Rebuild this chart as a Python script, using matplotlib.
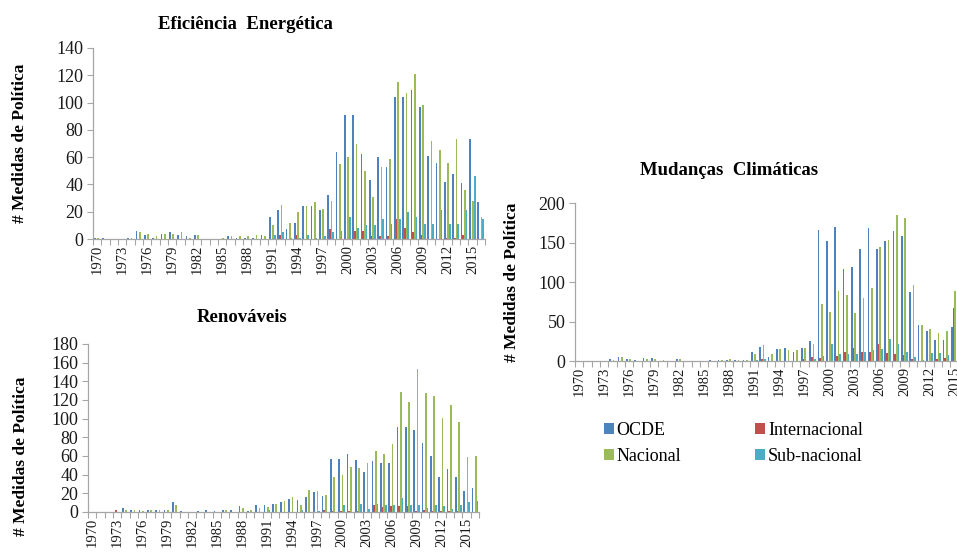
import numpy as np
import matplotlib
matplotlib.use("Agg")
import matplotlib.pyplot as plt
from matplotlib.patches import Patch
from matplotlib.ticker import MultipleLocator, FixedLocator

plt.rcParams['font.family'] = ['Liberation Serif', 'DejaVu Serif']

series_names = ["OCDE", "Internacional", "Nacional", "Sub-nacional"]
series_colors = ["#4F81BD", "#C0504D", "#9BBB59", "#4BACC6"]

years = list(range(1970, 2017))          # 1970-2016
years_mc = list(range(1970, 2016))       # 1970-2015

# Eficiência Energética
ee_ocde = [0.5, 0.5, 0, 0, 0.5, 6, 3, 0.5, 4, 5, 3, 2, 3, 0, 0, 0, 2, 1, 0.5, 1,
           3, 16, 21, 7, 12, 24, 24, 21, 32, 64, 91, 91, 62, 43, 60, 53, 104, 104,
           109, 97, 61, 56, 42, 48, 41, 73, 27]
ee_int = [0, 0, 0, 0, 0, 0, 0, 0, 0, 0, 0, 0, 0, 0, 0, 0, 0, 0, 0, 0,
          0, 0, 3, 0, 3, 0, 0, 0, 7, 0, 0, 6, 6, 2, 2, 2, 15, 8,
          5, 3, 0, 0, 1, 1, 3, 0, 0]
ee_nac = [0.5, 0, 0, 0, 0.5, 5, 4, 2, 4, 4, 5, 0.5, 3, 0, 0, 0.5, 2, 2, 2, 3,
          2, 10, 25, 12, 20, 24, 27, 22, 28, 55, 60, 70, 50, 31, 53, 59, 115, 107,
          121, 98, 72, 65, 56, 73, 36, 28, 16]
ee_sub = [0, 0, 0, 0, 0, 0, 0, 0, 0, 0, 0, 0, 0, 0, 0, 0, 0, 0, 0, 0,
          0, 3, 5, 0.5, 0.5, 3, 0.5, 2, 5, 6, 16, 8, 10, 10, 15, 11, 15, 20,
          16, 11, 11, 21, 11, 11, 21, 46, 15]

# Renováveis
ren_ocde = [0, 0, 0, 0, 4, 2, 2, 2, 2, 2, 11, 1, 0, 1, 2, 1, 2, 2, 6, 1,
            7, 7, 9, 11, 14, 13, 16, 21, 17, 57, 57, 62, 56, 43, 55, 52, 52, 91,
            91, 88, 74, 60, 38, 46, 38, 23, 26]
ren_int = [0, 0, 0, 2, 0, 0, 0, 0, 0, 0, 0, 0, 0, 0, 0, 0, 0, 0, 0, 0,
           0, 0, 0, 0, 0, 0, 0, 0, 2, 1, 1, 1.5, 1, 0, 7, 5, 6, 6,
           6, 1, 2, 1, 1, 1, 1.5, 0, 0]
ren_nac = [0, 0, 0, 0, 2, 2, 1, 2, 2, 2, 7, 0, 0, 0, 0, 0, 2, 0, 4, 2,
           4, 5, 9, 12, 16, 7, 24, 23, 18, 38, 40, 48, 47, 53, 65, 62, 73, 129,
           118, 153, 127, 124, 101, 115, 96, 59, 60]
ren_sub = [0, 0, 0, 0, 0, 0, 0, 0, 0, 0, 0, 0, 0, 0, 0, 0, 0, 0, 0, 0,
           0, 2, 0, 0, 0, 2, 0, 1, 0, 0, 8, 0, 9, 3, 9, 7, 7, 15,
           8, 8, 4, 8, 6, 3, 7, 11, 12]

# Mudanças Climáticas
mc_ocde = [0.5, 0.5, 0, 0, 2, 4.5, 2, 1.5, 3.5, 3.5, 0, 0, 2.5, 0, 0, 0, 1, 1, 1, 1,
           1, 12, 18, 5.5, 15, 17, 12, 17, 25, 166, 152, 169, 117, 119, 142, 168,
           142, 152, 164, 158, 87, 46, 38, 27, 27, 43]
mc_int = [0, 0, 0, 0, 0, 0, 0, 0, 0, 0, 0, 0, 0, 0, 0, 0, 0, 0, 0, 0,
          0, 0, 2, 0, 0, 0, 0, 2, 4.5, 3.5, 0, 6, 11, 16, 11, 11,
          21, 10.5, 9, 7, 3, 0, 0, 2.5, 3.5, 67]
mc_nac = [0.5, 0, 0, 0, 1, 5, 2, 0, 2.5, 2, 1.5, 0, 2, 0, 0, 0.5, 0.5, 1, 3, 1.5,
          1, 9, 20, 9, 15, 13.5, 14, 17, 21, 72, 62, 88, 83, 61, 79.5, 93,
          144, 153, 185, 181, 96, 46, 41, 36, 37.5, 89]
mc_sub = [0, 0, 0, 0, 0, 0, 0, 0, 0, 0, 0, 0, 0, 0, 0, 0, 0, 0, 0, 0,
          0, 1, 2, 0, 0, 0, 0, 0, 2, 6, 22, 9, 9, 9, 11, 13.5,
          15, 28, 21, 12, 5, 1, 10, 10, 7, 0]

fig = plt.figure(figsize=(9.57, 5.54), dpi=100)
W, H = 957, 554


def add_axes_px(x0, y_top, x1, y_bottom):
    return fig.add_axes([x0 / W, 1 - y_bottom / H, (x1 - x0) / W, (y_bottom - y_top) / H])


def draw_panel(ax, yrs, data, ymax, ystep, title, title_x, title_pad, n_cats=47):
    x = np.arange(len(yrs))
    bw = 0.2
    offsets = [-1.5 * bw, -0.5 * bw, 0.5 * bw, 1.5 * bw]
    for vals, off, col in zip(data, offsets, series_colors):
        ax.bar(x + off, vals, width=bw, color=col, linewidth=0)
    ax.set_xlim(-0.5, n_cats - 0.5)
    ax.set_ylim(0, ymax)
    ax.yaxis.set_major_locator(MultipleLocator(ystep))
    for s in ("top", "right"):
        ax.spines[s].set_visible(False)
    for s in ("left", "bottom"):
        ax.spines[s].set_color("#A6A6A6")
        ax.spines[s].set_linewidth(0.9)
    all_years = list(range(1970, 1970 + n_cats))
    ax.set_xticks([i for i, y in enumerate(all_years) if (y - 1970) % 3 == 0])
    ax.set_xticklabels([str(y) for y in all_years if (y - 1970) % 3 == 0],
                       rotation=90, fontsize=10.5, color="#1a1a1a")
    ax.xaxis.set_minor_locator(FixedLocator(np.arange(-0.5, n_cats, 1.0)))
    ax.tick_params(axis="x", which="major", length=0, pad=4)
    ax.tick_params(axis="x", which="minor", length=4, color="#A6A6A6", width=0.8)
    ax.tick_params(axis="y", length=4, color="#A6A6A6", width=0.8,
                   labelsize=13, labelcolor="#1a1a1a", pad=3)
    ax.set_ylabel("# Medidas de Política", fontsize=12.5, fontweight="bold")
    t = ax.set_title(title, fontsize=13.5, fontweight="bold", pad=title_pad)
    t.set_position((title_x, 1.0))


ax1 = add_axes_px(93, 48, 485, 239)
draw_panel(ax1, years, [ee_ocde, ee_int, ee_nac, ee_sub], 140, 20,
           "Eficiência  Energética", 0.388, 14)
ax1.yaxis.set_label_coords(-0.165, 0.5)

ax2 = add_axes_px(88, 344, 479, 512)
draw_panel(ax2, years, [ren_ocde, ren_int, ren_nac, ren_sub], 180, 20,
           "Renováveis", 0.394, 16)
ax2.yaxis.set_label_coords(-0.152, 0.33)

ax3 = add_axes_px(575, 203, 967, 361)
draw_panel(ax3, years_mc, [mc_ocde, mc_int, mc_nac, mc_sub], 200, 50,
           "Mudanças  Climáticas", 0.393, 20)
ax3.yaxis.set_label_coords(-0.14, 0.5)

# Legend laid out row by row: OCDE | Internacional / Nacional | Sub-nacional
order = [0, 2, 1, 3]
handles = [Patch(facecolor=series_colors[i], edgecolor="none") for i in order]
labels = [series_names[i] for i in order]
fig.legend(handles, labels, ncol=2, loc="upper left",
           bbox_to_anchor=(604 / W, 1 - 422 / H), frameon=False,
           borderpad=0, borderaxespad=0,
           fontsize=13, handlelength=0.55, handleheight=0.55,
           handletextpad=0.15, columnspacing=4.1, labelspacing=0.5)

fig.savefig("out.png", dpi=100)
